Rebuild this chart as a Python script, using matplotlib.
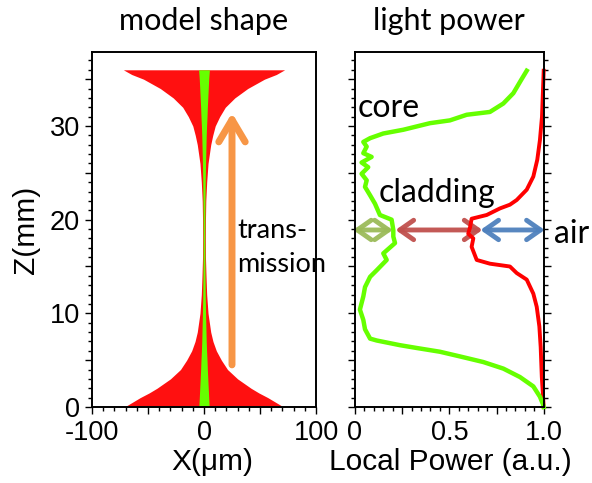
import matplotlib
matplotlib.use("Agg")
import matplotlib.pyplot as plt
from matplotlib.patches import FancyArrowPatch
from matplotlib.ticker import MultipleLocator, FixedLocator

# 形状数据 (z 单位 mm, 半宽单位 um)
shape_z = [0, 0.5, 1, 1.5, 2, 3, 4, 5, 6, 7, 8, 10, 12, 14, 16, 18, 20, 22, 24, 26, 28, 29, 30, 31, 32, 33, 34, 35, 35.5, 36]
clad_half = [71, 64, 57, 49, 42, 30, 21, 15.5, 11, 8, 6, 3.6, 2.4, 1.8, 1.3, 1.2, 1.3, 1.6, 2.4, 3.6, 6, 7.8, 10, 14, 19, 27.5, 39, 54, 64.6, 72]
core_half = [4.6, 4.4, 4.2, 4.0, 3.8, 3.4, 3.0, 2.7, 2.3, 2.0, 1.8, 1.4, 1.1, 0.9, 0.8, 0.7, 0.8, 0.9, 1.1, 1.4, 1.8, 2.0, 2.3, 2.7, 3.0, 3.4, 3.8, 4.2, 4.5, 4.8]

# 光功率数据
core_z = [0.0, 0.2, 1.1, 2.2, 3.2, 4.1, 4.8, 5.4, 5.9, 6.3, 6.6, 7.1, 7.3, 8.3, 9.3, 10.4, 11.8, 12.8, 13.9, 14.6,
          15.7, 16.4, 17.5, 18.2, 18.9, 20.0, 20.5, 21.7, 22.6, 23.5, 24.2, 24.9, 25.6, 26.1, 26.7, 27.1, 27.8, 28.3,
          28.7, 29.2, 29.6, 30.3, 30.6, 31.2, 31.5, 32.4, 33.5, 34.9, 35.9]
core_p = [1.0, 0.998, 0.98, 0.945, 0.874, 0.786, 0.68, 0.556, 0.45, 0.327, 0.238, 0.115, 0.08, 0.053, 0.044, 0.026,
          0.044, 0.053, 0.08, 0.115, 0.168, 0.15, 0.212, 0.203, 0.203, 0.194, 0.132, 0.106, 0.08, 0.053, 0.062, 0.035,
          0.07, 0.035, 0.088, 0.044, 0.062, 0.044, 0.08, 0.15, 0.256, 0.397, 0.503, 0.592, 0.715, 0.786, 0.839, 0.88, 0.91]
clad_z = [0, 3.2, 6.4, 8.6, 10.7, 12.1, 13.6, 14.3, 15.0, 15.3, 15.7, 17.1, 18.0, 18.5, 19.2, 20.1, 20.5, 21.2, 21.6,
          22.1, 23.2, 24.6, 26.4, 28.5, 31.0, 35.9]
clad_p = [1.0, 0.99, 0.984, 0.977, 0.963, 0.945, 0.91, 0.857, 0.821, 0.715, 0.645, 0.618, 0.627, 0.60, 0.61, 0.618,
          0.698, 0.768, 0.821, 0.857, 0.91, 0.945, 0.966, 0.98, 0.991, 1.0]

x_ticks = [-100, -50, 0, 50, 100]
x_ticklabels = ['-100', '', '0', '', '100']
p_ticks = [0, 0.25, 0.5, 0.75, 1.0]
p_ticklabels = ['0', '', '0.5', '', '1.0']
z_ticks = [0, 5, 10, 15, 20, 25, 30, 35]
z_ticklabels = ['0', '', '10', '', '20', '', '30', '']

RED = '#FF1010'
GREEN = '#66FF00'
ORANGE = '#F79646'
TXT = 'Lato'
NUM = 'Liberation Sans'

fig = plt.figure(figsize=(5.92, 4.83), dpi=100)
ax1 = fig.add_axes([92 / 592, 1 - 407 / 483, 224 / 592, 355 / 483])
ax2 = fig.add_axes([355 / 592, 1 - 407 / 483, 188.7 / 592, 355 / 483])

def style(ax):
    for s in ax.spines.values():
        s.set_linewidth(1.4)
    ax.tick_params(which='both', direction='out', width=1.0, labelsize=19.5)
    ax.tick_params(axis='x', which='both', pad=4.5)
    ax.tick_params(which='major', length=5)
    ax.tick_params(which='minor', length=3)
    for lab in ax.get_xticklabels() + ax.get_yticklabels():
        lab.set_family(NUM)

# 左图: 模型形状
neg_clad = [-v for v in clad_half]
neg_core = [-v for v in core_half]
ax1.fill_betweenx(shape_z, neg_clad, clad_half, color=RED, lw=0)
ax1.fill_betweenx(shape_z, neg_core, core_half, color=GREEN, lw=0)
ax1.set_xlim(-100, 100)
ax1.set_ylim(0, 37.9)
ax1.xaxis.set_major_locator(FixedLocator(x_ticks))
ax1.set_xticklabels(x_ticklabels)
ax1.xaxis.set_minor_locator(MultipleLocator(10))
ax1.yaxis.set_major_locator(FixedLocator(z_ticks))
ax1.set_yticklabels(z_ticklabels)
ax1.yaxis.set_minor_locator(MultipleLocator(1))
style(ax1)
ax1.set_xlabel('X(μm)', fontsize=21.5, family=NUM)
ax1.xaxis.set_label_coords(0.538, -0.115)
ax1.set_ylabel('Z(mm)', fontsize=21.5, family=NUM)
ax1.yaxis.set_label_coords(-0.232, 0.5)
ax1.set_title('model shape', fontsize=22, family=TXT, pad=16)

arr = FancyArrowPatch((25, 4.2), (25, 31.7), arrowstyle='->,head_length=16,head_width=9.5',
                      color=ORANGE, lw=5, mutation_scale=1, capstyle='round', joinstyle='round')
ax1.add_patch(arr)
ax1.text(29.5, 18.0, 'trans-', fontsize=19.5, family=TXT, va='baseline')
ax1.text(29.5, 14.4, 'mission', fontsize=19.5, family=TXT, va='baseline', clip_on=False)

# 右图: 光功率
ax2.plot(clad_p, clad_z, color='#FF0000', lw=2.8, clip_on=False)
ax2.plot(core_p, core_z, color=GREEN, lw=3.2, clip_on=False)
ax2.set_xlim(0, 1.0)
ax2.set_ylim(0, 37.9)
ax2.xaxis.set_major_locator(FixedLocator(p_ticks))
ax2.set_xticklabels(p_ticklabels)
ax2.xaxis.set_minor_locator(MultipleLocator(0.05))
ax2.yaxis.set_major_locator(FixedLocator(z_ticks))
ax2.yaxis.set_minor_locator(MultipleLocator(1))
ax2.tick_params(axis='y', which='both', left=True, right=True, labelleft=False)
style(ax2)
ax2.set_xlabel('Local Power (a.u.)', fontsize=21.5, family=NUM)
ax2.xaxis.set_label_coords(0.503, -0.115)
ax2.set_title('light power', fontsize=22, family=TXT, pad=16)

for x0, x1, c in [(-0.025, 0.215, '#9BBB59'), (0.2, 0.69, '#C0504D'), (0.65, 1.02, '#4F81BD')]:
    a = FancyArrowPatch((x0, 18.9), (x1, 18.9), arrowstyle='<->,head_length=10,head_width=7',
                        color=c, lw=3.5, mutation_scale=1, clip_on=False, alpha=0.95)
    ax2.add_patch(a)

ax2.text(0.016, 31.0, 'core', fontsize=23, family=TXT, va='baseline')
ax2.text(0.124, 21.9, 'cladding', fontsize=23, family=TXT, va='baseline')
ax2.text(1.054, 17.5, 'air', fontsize=23, family=TXT, va='baseline', clip_on=False)

fig.savefig('out.png', dpi=100)
